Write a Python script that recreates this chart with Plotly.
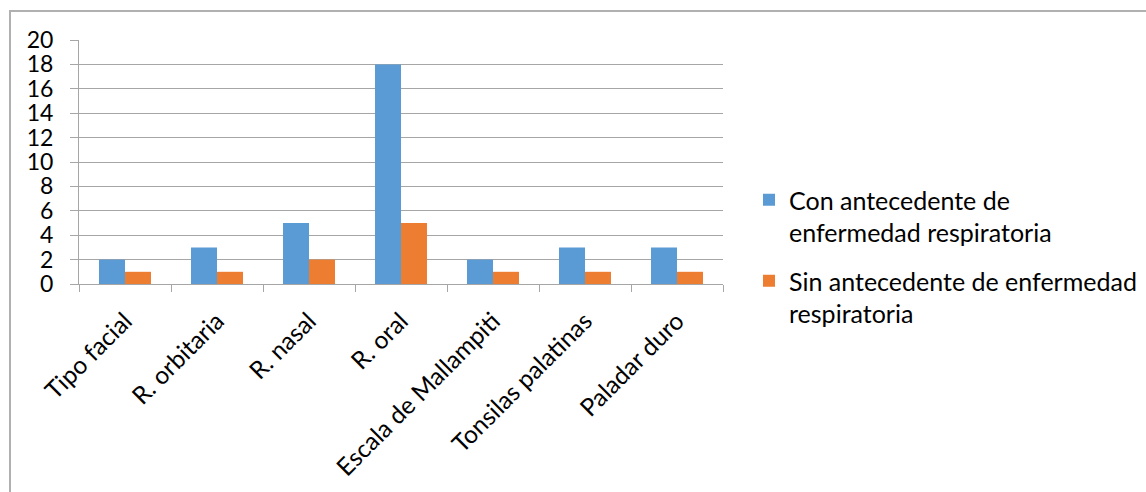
import plotly.graph_objects as go

# Categories and counts per group
categorias = ["Tipo facial", "R. orbitaria", "R. nasal", "R. oral",
              "Escala de Mallampiti", "Tonsilas palatinas", "Paladar duro"]
con_antecedente = [2, 3, 5, 18, 2, 3, 3]
sin_antecedente = [1, 1, 2, 5, 1, 1, 1]
nombres_series = ["Con antecedente de<br>enfermedad respiratoria",
                  "Sin antecedente de enfermedad<br>respiratoria"]
y_ticks = list(range(0, 21, 2))

AZUL = "#5B9BD5"
NARANJA = "#ED7D31"
GRIS = "#A6A6A6"
FUENTE = "Lato, 'Open Sans', sans-serif"

W, H = 1146, 492
L, R, T, B = 79, 723, 40, 284

fig = go.Figure()
fig.add_trace(go.Bar(x=categorias, y=con_antecedente, name=nombres_series[0],
                     marker=dict(color=AZUL, line=dict(width=0)),
                     legendgroup="a"))
fig.add_trace(go.Bar(x=categorias, y=sin_antecedente, name=nombres_series[1],
                     marker=dict(color=NARANJA, line=dict(width=0)),
                     legendgroup="b"))

fig.update_layout(
    width=W, height=H,
    margin=dict(l=L, r=W - R, t=T, b=H - B, autoexpand=False),
    paper_bgcolor="white", plot_bgcolor="white",
    font=dict(family=FUENTE, size=23, color="#000000"),
    barmode="group", bargap=0.435, bargroupgap=0,
    showlegend=True,
    legend=dict(x=(749 - L) / (R - L), xanchor="left",
                y=(T - 177) / (B - T) + 1, yanchor="top",
                yref="paper", valign="top",
                font=dict(size=25), tracegroupgap=13,
                bgcolor="rgba(0,0,0,0)"),
)

fig.update_xaxes(
    type="category", tickangle=-45, tickson="boundaries",
    ticks="outside", ticklen=7, tickcolor=GRIS, tickwidth=1,
    showline=True, linecolor=GRIS, linewidth=1,
    showgrid=False, automargin=False, ticklabelstandoff=12,
    tickfont=dict(size=24.5),
)
fig.update_yaxes(
    range=[0, 20], tickvals=y_ticks,
    ticks="outside", ticklen=8, tickcolor=GRIS, tickwidth=1,
    showline=True, linecolor=GRIS, linewidth=1,
    showgrid=True, gridcolor=GRIS, gridwidth=1,
    zeroline=False, automargin=False, ticklabelstandoff=12,
    tickfont=dict(size=23),
)

# Chart frame
fig.add_shape(type="rect", xref="paper", yref="paper",
              x0=(10 - L) / (R - L), x1=(W + 20 - L) / (R - L),
              y0=(B - (H + 20)) / (B - T), y1=(B - 11) / (B - T),
              line=dict(color="#B0B0B0", width=2), fillcolor="rgba(0,0,0,0)",
              layer="below")

fig.write_html("out.html")
